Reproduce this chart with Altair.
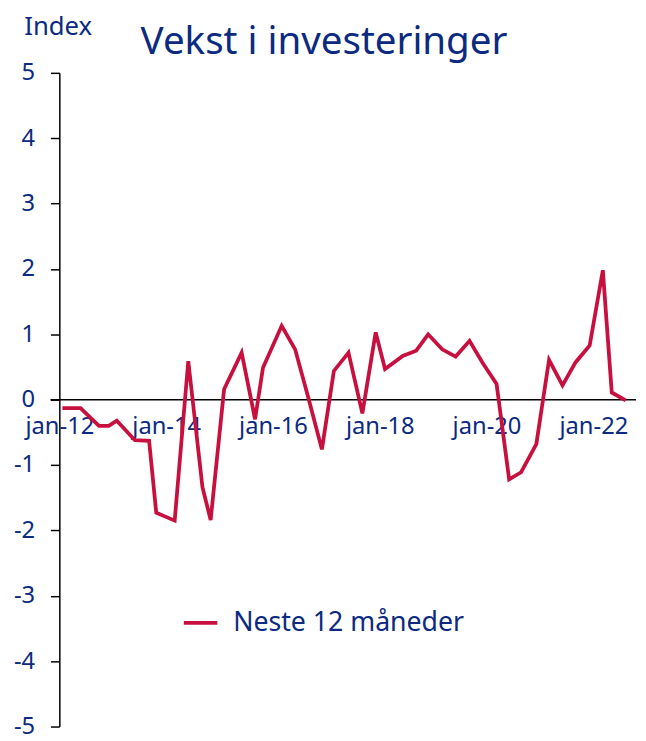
import altair as alt
import pandas as pd

dates = [
    "2012-01-22", "2012-05-25", "2012-09-28", "2012-12-04",
    "2013-01-28", "2013-06-01", "2013-09-06", "2013-10-25",
    "2014-02-28", "2014-06-01", "2014-09-06", "2014-11-01",
    "2015-02-01", "2015-06-01", "2015-09-01", "2015-10-25",
    "2016-03-01", "2016-06-01", "2016-08-28", "2016-12-01",
    "2017-02-21", "2017-06-01", "2017-09-04", "2017-12-04",
    "2018-02-06", "2018-06-07", "2018-09-07", "2018-11-28",
    "2019-03-04", "2019-06-04", "2019-09-07", "2019-12-04",
    "2020-03-10", "2020-06-04", "2020-08-25", "2020-12-07",
    "2021-03-04", "2021-06-04", "2021-09-01", "2021-12-07",
    "2022-03-07", "2022-05-07", "2022-08-10",
]
values = [
    -0.13, -0.13, -0.40, -0.40,
    -0.32, -0.62, -0.63, -1.73,
    -1.85, 0.59, -1.34, -1.84,
    0.16, 0.72, -0.30, 0.49,
    1.13, 0.77, 0.05, -0.76,
    0.44, 0.72, -0.21, 1.03,
    0.47, 0.67, 0.75, 1.00,
    0.77, 0.66, 0.90, 0.57,
    0.24, -1.22, -1.11, -0.68,
    0.61, 0.22, 0.57, 0.83,
    1.98, 0.11, -0.01,
]
series_name = "Neste 12 måneder"
x_tick_years = [2012, 2014, 2016, 2018, 2020, 2022]
y_ticks = [-5, -4, -3, -2, -1, 0, 1, 2, 3, 4, 5]
zero_line = [0]

df = pd.DataFrame({"date": dates, "value": values, "serie": series_name})

NAVY = "#0b2a80"
RED = "#c8103e"
FONT = "Noto Sans"

W = 584
H = 662
zero_offset = -H / 2  # put x axis on the zero line

x_enc = alt.X(
    "date:T",
    scale=alt.Scale(type="utc", domain=["2012-01-01", "2022-10-20"], nice=False),
    axis=alt.Axis(
        title=None,
        values=[alt.DateTime(year=y, month=1, date=1, utc=True) for y in x_tick_years],
        labelExpr="'jan-' + utcFormat(datum.value, '%y')",
        offset=zero_offset,
        domain=False,
        ticks=False,
        grid=False,
        labelPadding=15,
        labelFontSize=24,
        labelColor=NAVY,
        labelFont=FONT,
        labelAlign="center",
        labelOverlap=False,
    ),
)

y_scale = alt.Scale(domain=[-5, 5], nice=False)
y_axis = alt.Axis(
    title="Index",
    titleAngle=0,
    titleAlign="left",
    titleBaseline="middle",
    titleX=-36,
    titleY=-47,
    titleFontSize=26,
    titleFontWeight="normal",
    titleColor=NAVY,
    titleFont=FONT,
    values=y_ticks,
    labelExpr="toString(datum.value)",
    grid=False,
    domainColor="black",
    domainWidth=1.5,
    tickColor="black",
    tickWidth=1.5,
    tickSize=9,
    labelPadding=16,
    labelFontSize=24,
    labelColor=NAVY,
    labelFont=FONT,
    labelOverlap=False,
)

line = alt.Chart(df).mark_line(strokeWidth=3.8, strokeJoin="miter").encode(
    x=x_enc,
    y=alt.Y("value:Q", scale=y_scale, axis=y_axis),
    color=alt.Color(
        "serie:N",
        scale=alt.Scale(domain=[series_name], range=[RED]),
        legend=alt.Legend(
            title=None,
            orient="none",
            legendX=124,
            legendY=538,
            symbolType="stroke",
            symbolStrokeWidth=3.8,
            symbolSize=1150,
            labelFontSize=27,
            labelColor=NAVY,
            labelFont=FONT,
            labelOffset=14,
            labelLimit=0,
        ),
    ),
)

zero_df = pd.DataFrame({"value": zero_line})
zero_rule = alt.Chart(zero_df).mark_rule(color="black", strokeWidth=1.5).encode(
    y=alt.Y("value:Q", scale=y_scale, axis=y_axis),
    x=alt.value(-9),
    x2=alt.value(W),
)

chart = alt.layer(zero_rule, line).properties(
    width=W,
    height=H,
    padding={"left": 52, "top": 61, "right": 2, "bottom": 12},
    autosize=alt.AutoSizeParams(type="none"),
    title=alt.TitleParams(
        "Vekst i investeringer",
        fontSize=39,
        fontWeight="normal",
        color=NAVY,
        font=FONT,
        anchor="middle",
        dx=-24,
        dy=69,
        offset=20,
    ),
).configure_view(stroke=None)

chart.save("out.html", embed_options={"renderer": "svg", "actions": False})
